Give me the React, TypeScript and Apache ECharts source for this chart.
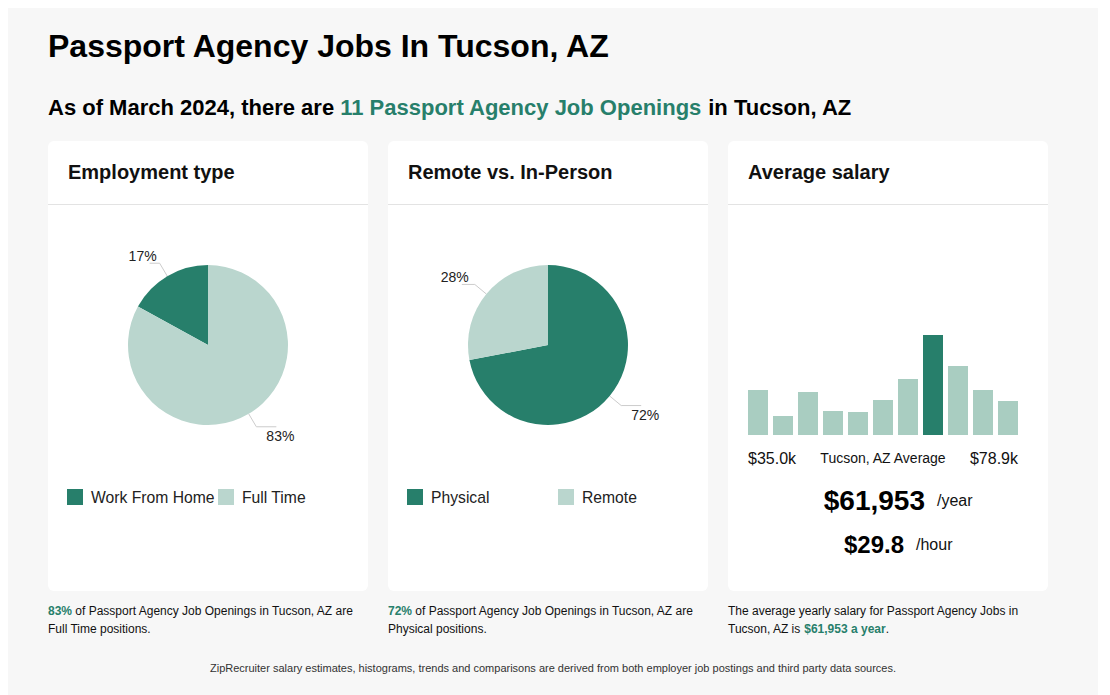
import React, { useEffect, useRef } from "react";
import * as echarts from "echarts";

const employmentNames = ["Work From Home", "Full Time"];
const employmentValues = [17, 83];
const remoteNames = ["Physical", "Remote"];
const remoteValues = [72, 28];
const salaryBins = ["1", "2", "3", "4", "5", "6", "7", "8", "9", "10", "11"];
const salaryCounts = [45, 19, 43, 24, 23, 35, 56, 100, 69, 45, 34];
const highlightBin = 7;
const salaryMinLabel = "$35.0k";
const salaryMaxLabel = "$78.9k";
const avgYear = "$61,953";
const avgHour = "$29.8";

const DARK = "#277f6b";
const LIGHT = "#bad6ce";
const BAR_LIGHT = "#a9cdc1";
const FONT = "'Liberation Sans', Arial, Helvetica, sans-serif";

export default function App() {
  const ref = useRef<HTMLDivElement>(null);
  useEffect(() => {
    if (!ref.current) return;
    const chart = echarts.init(ref.current, undefined, { renderer: "svg" });

    const cards: any[] = [];
    const cardTitles = ["Employment type", "Remote vs. In-Person", "Average salary"];
    [40, 380, 720].forEach((x, i) => {
      cards.push({
        type: "rect",
        shape: { x, y: 133, width: 320, height: 450, r: 6 },
        style: { fill: "#ffffff" },
        z: 0,
      });
      cards.push({
        type: "line",
        shape: { x1: x, y1: 196.5, x2: x + 320, y2: 196.5 },
        style: { stroke: "#e3e3e3", lineWidth: 1 },
        z: 1,
      });
      cards.push({
        type: "text",
        x: x + 20,
        y: 164,
        style: {
          text: cardTitles[i],
          font: `bold 20px ${FONT}`,
          fill: "#111",
          verticalAlign: "middle",
        },
        z: 2,
      });
    });

    const texts: any[] = [
      {
        type: "text",
        x: 40,
        y: 38,
        style: { text: "Passport Agency Jobs In Tucson, AZ", font: `bold 32px ${FONT}`, fill: "#000", verticalAlign: "middle" },
      },
      {
        type: "text",
        x: 40,
        y: 99,
        style: {
          text: "As of March 2024, there are {g|11 Passport Agency Job Openings} in Tucson, AZ",
          font: `bold 22px ${FONT}`,
          fill: "#000",
          verticalAlign: "middle",
          rich: { g: { fill: DARK, font: `bold 22px ${FONT}` } },
        },
      },
      {
        type: "text",
        x: 740,
        y: 450,
        style: { text: salaryMinLabel, font: `16px ${FONT}`, fill: "#111", verticalAlign: "middle" },
      },
      {
        type: "text",
        x: 875,
        y: 450,
        style: { text: "Tucson, AZ Average", font: `14px ${FONT}`, fill: "#111", verticalAlign: "middle", align: "center" },
      },
      {
        type: "text",
        x: 1010,
        y: 450,
        style: { text: salaryMaxLabel, font: `16px ${FONT}`, fill: "#111", verticalAlign: "middle", align: "right" },
      },
      {
        type: "text",
        x: 917,
        y: 492,
        style: { text: avgYear, font: `bold 28px ${FONT}`, fill: "#000", verticalAlign: "middle", align: "right" },
      },
      {
        type: "text",
        x: 929,
        y: 492,
        style: { text: "/year", font: `16px ${FONT}`, fill: "#111", verticalAlign: "middle" },
      },
      {
        type: "text",
        x: 896,
        y: 536,
        style: { text: avgHour, font: `bold 24px ${FONT}`, fill: "#000", verticalAlign: "middle", align: "right" },
      },
      {
        type: "text",
        x: 908,
        y: 536,
        style: { text: "/hour", font: `16px ${FONT}`, fill: "#111", verticalAlign: "middle" },
      },
      {
        type: "text",
        x: 40,
        y: 594,
        style: {
          text: "{g|83%} of Passport Agency Job Openings in Tucson, AZ are\nFull Time positions.",
          font: `12px ${FONT}`,
          fill: "#111",
          lineHeight: 18,
          rich: { g: { fill: DARK, font: `bold 12px ${FONT}`, lineHeight: 18 } },
        },
      },
      {
        type: "text",
        x: 380,
        y: 594,
        style: {
          text: "{g|72%} of Passport Agency Job Openings in Tucson, AZ are\nPhysical positions.",
          font: `12px ${FONT}`,
          fill: "#111",
          lineHeight: 18,
          rich: { g: { fill: DARK, font: `bold 12px ${FONT}`, lineHeight: 18 } },
        },
      },
      {
        type: "text",
        x: 720,
        y: 594,
        style: {
          text: "The average yearly salary for Passport Agency Jobs in\nTucson, AZ is {g|$61,953 a year}.",
          font: `12px ${FONT}`,
          fill: "#111",
          lineHeight: 18,
          rich: { g: { fill: DARK, font: `bold 12px ${FONT}`, lineHeight: 18 } },
        },
      },
      {
        type: "text",
        x: 545,
        y: 660,
        style: {
          text: "ZipRecruiter salary estimates, histograms, trends and comparisons are derived from both employer job postings and third party data sources.",
          font: `11px ${FONT}`,
          fill: "#333",
          align: "center",
          verticalAlign: "middle",
        },
      },
    ].map((t) => ({ ...t, z: 3 }));

    const legendBase = {
      icon: "rect",
      itemWidth: 16,
      itemHeight: 16,
      orient: "horizontal",
      top: 476,
      selectedMode: false,
      textStyle: { fontSize: 15.7, color: "#222", fontFamily: FONT, padding: [0, 0, 0, 3] },
    };

    const pieLabel = {
      show: true,
      formatter: "{c}%",
      color: "#222",
      fontSize: 14,
      fontFamily: FONT,
    };
    const pieLabelLine = { show: true, length: 15, length2: 12, lineStyle: { color: "#cccccc", width: 1 } };

    const pieLabelLayout = (p: any) => {
      const lr = p.labelRect;
      const r = p.rect;
      const isLeft = lr.x + lr.width / 2 < r.x + r.width / 2;
      return {
        dx: isLeft ? 12 : -15,
        dy: isLeft ? -7 : 9,
        labelLinePoints: p.labelLinePoints,
      };
    };

    chart.setOption({
      animation: false,
      backgroundColor: "#f7f7f7",
      textStyle: { fontFamily: FONT },
      graphic: { elements: [...cards, ...texts] },
      legend: [
        { ...legendBase, left: 54, data: [employmentNames[0]] },
        { ...legendBase, left: 205, data: [employmentNames[1]] },
        { ...legendBase, left: 394, data: [remoteNames[0]] },
        { ...legendBase, left: 545, data: [remoteNames[1]] },
      ],
      grid: { left: 737.5, top: 327, width: 275, height: 100 },
      xAxis: { type: "category", data: salaryBins, show: false },
      yAxis: { type: "value", min: 0, max: 100, show: false },
      series: [
        {
          type: "pie",
          center: [200, 337],
          radius: 80,
          clockwise: false,
          startAngle: 90,
          z: 5,
          label: pieLabel,
          labelLine: pieLabelLine,
          labelLayout: pieLabelLayout,
          data: employmentNames.map((n, i) => ({
            name: n,
            value: employmentValues[i],
            itemStyle: { color: i === 0 ? DARK : LIGHT },
            labelLine: { length2: i === 0 ? 10 : 20 },
          })),
        },
        {
          type: "pie",
          center: [540, 337],
          radius: 80,
          clockwise: true,
          startAngle: 90,
          z: 5,
          label: pieLabel,
          labelLine: pieLabelLine,
          labelLayout: pieLabelLayout,
          data: remoteNames.map((n, i) => ({
            name: n,
            value: remoteValues[i],
            itemStyle: { color: i === 0 ? DARK : LIGHT },
            labelLine: { length2: i === 0 ? 20 : 13 },
          })),
        },
        {
          type: "bar",
          barCategoryGap: "20%",
          z: 5,
          data: salaryCounts.map((v, i) => ({
            value: v,
            itemStyle: { color: i === highlightBin ? DARK : BAR_LIGHT },
          })),
        },
      ],
    });
    return () => chart.dispose();
  }, []);
  return <div ref={ref} style={{ width: 1090, height: 687 }} />;
}
